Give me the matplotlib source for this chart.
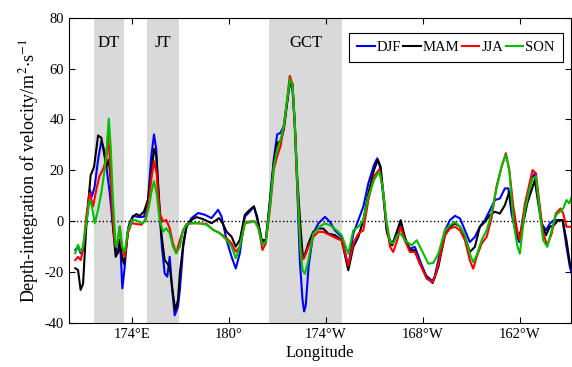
import numpy as np
import matplotlib
matplotlib.use("Agg")
import matplotlib.pyplot as plt

plt.rcParams["font.family"] = ["Liberation Serif", "DejaVu Serif"]
plt.rcParams["mathtext.fontset"] = "stix"
plt.rcParams["axes.unicode_minus"] = False

# longitude as continuous degrees east (186 = 174W)
lon_djf = [170.49, 170.66, 170.82, 170.97, 171.17, 171.38, 171.52, 171.69, 171.90, 172.10, 172.27, 172.41,
           172.62, 172.78, 172.97, 173.13, 173.28, 173.40, 173.55, 173.71, 173.85, 174.06, 174.27, 174.47,
           174.74, 174.99, 175.19, 175.36, 175.50, 175.65, 175.85, 176.02, 176.18, 176.33, 176.47, 176.64,
           176.84, 176.96, 177.17, 177.37, 177.68, 178.09, 178.51, 178.92, 179.33, 179.54, 179.85, 180.16,
           180.42, 180.67, 180.98, 181.29, 181.54, 181.81, 182.07, 182.28, 182.53, 182.77, 182.98, 183.19,
           183.39, 183.56, 183.76, 183.93, 184.07, 184.22, 184.38, 184.55, 184.65, 184.75, 184.92, 185.21,
           185.52, 185.94, 186.25, 186.55, 186.97, 187.38, 187.69, 188.00, 188.31, 188.62, 188.97, 189.17,
           189.34, 189.55, 189.75, 190.06, 190.37, 190.62, 190.88, 191.19, 191.50, 191.81, 192.18, 192.53,
           192.70, 192.95, 193.36, 193.67, 193.98, 194.29, 194.60, 194.90, 195.21, 195.52, 195.83, 196.14,
           196.45, 196.76, 197.07, 197.28, 197.48, 197.75, 197.96, 198.16, 198.45, 198.72, 198.92, 199.13,
           199.34, 199.61, 199.85, 200.10, 200.37, 200.64, 200.88, 201.09, 201.21]
djf = [-11.3, -10.0, -12.6, -11.3, -0.8, 12.4, 9.7, 13.7, 24.2, 31.4, 28.2, 21.6,
       11.1, 0.5, -10.0, -12.6, -10.0, -26.4, -17.9, -4.7, -0.8, 2.1, 1.8, 1.6,
       1.8, 8.4, 25.5, 34.1, 28.2, 8.4, -10.0, -20.5, -21.8, -14.0, -25.8, -37.0,
       -33.7, -27.0, -10.0, -2.1, 1.2, 3.2, 2.5, 1.2, 4.5, 1.8, -7.4, -14.0,
       -18.6, -12.6, 1.8, 3.8, 5.8, -0.8, -8.7, -7.4, 8.4, 24.2, 34.1, 34.7,
       37.4, 45.3, 55.0, 51.5, 37.4, 13.7, -15.3, -31.0, -35.5, -33.0, -18.0, -4.9,
       -0.9, 1.7, -0.3, -3.6, -6.2, -18.0, -4.9, 0.4, 5.7, 14.9, 22.1, 24.7,
       21.4, 9.6, -3.6, -9.5, -4.9, -0.3, -7.5, -10.8, -10.1, -15.4, -21.3, -23.3,
       -22.5, -15.4, -3.6, 0.4, 2.1, 1.1, -3.6, -8.2, -6.2, -2.2, 0.4, 4.3,
       8.3, 8.9, 12.9, 12.9, 3.0, -4.9, -8.2, 0.4, 8.3, 16.8, 18.8, 9.6,
       -0.9, -3.6, -0.9, 0.4, 0.4, 0.4, -10.1, -18.0, -20.7]

lon_mam = [170.49, 170.66, 170.82, 170.97, 171.17, 171.44, 171.65, 171.90, 172.10, 172.27, 172.41, 172.56,
           172.68, 172.82, 172.99, 173.13, 173.24, 173.38, 173.50, 173.65, 173.79, 174.06, 174.27, 174.47,
           174.74, 174.99, 175.19, 175.36, 175.50, 175.65, 175.81, 176.02, 176.18, 176.33, 176.53, 176.68,
           176.84, 176.96, 177.17, 177.37, 177.68, 177.99, 178.40, 178.92, 179.39, 179.60, 179.85, 180.16,
           180.42, 180.67, 180.98, 181.29, 181.54, 181.74, 182.01, 182.28, 182.53, 182.77, 182.98, 183.19,
           183.39, 183.60, 183.76, 183.93, 184.07, 184.22, 184.42, 184.55, 184.65, 184.91, 185.21, 185.52,
           185.83, 186.14, 186.55, 186.97, 187.38, 187.69, 188.00, 188.31, 188.62, 188.97, 189.21, 189.38,
           189.59, 189.79, 190.10, 190.41, 190.62, 190.88, 191.19, 191.50, 191.81, 192.23, 192.60, 192.95,
           193.36, 193.67, 193.98, 194.29, 194.60, 194.90, 195.21, 195.52, 195.83, 196.14, 196.45, 196.76,
           197.07, 197.34, 197.55, 197.89, 198.16, 198.45, 198.72, 198.92, 199.13, 199.34, 199.61, 199.85,
           200.10, 200.37, 200.64, 200.88, 201.09, 201.21]
mam = [-18.5, -19.2, -27.0, -24.6, -2.1, 18.0, 21.3, 33.7, 32.8, 26.8, 21.3, 24.2,
       16.3, -2.1, -14.0, -12.0, -7.4, -14.0, -16.8, -10.0, -2.1, 1.8, 2.8, 2.1,
       3.8, 8.4, 19.2, 28.4, 25.5, 11.1, -4.7, -15.3, -16.6, -17.9, -28.4, -35.0,
       -31.1, -20.5, -8.7, -2.1, 0.5, 1.6, 0.8, -0.8, 1.2, -0.8, -4.1, -6.1,
       -10.0, -7.4, 2.5, 4.5, 5.8, 1.8, -7.4, -7.4, 7.1, 22.9, 30.8, 31.4,
       36.0, 46.6, 55.1, 53.8, 38.7, 17.6, -2.1, -12.6, -14.0, -8.8, -4.2, -2.9,
       -2.9, -4.9, -5.5, -7.5, -19.3, -10.1, -6.2, 0.4, 10.9, 20.1, 24.1, 21.4,
       8.3, -4.9, -9.5, -3.6, 0.4, -6.2, -11.4, -11.4, -16.7, -22.0, -24.3, -18.0,
       -5.5, -2.2, -0.9, -2.2, -6.2, -12.1, -10.1, -2.2, -0.3, 2.4, 3.7, 3.0,
       6.3, 11.6, 3.0, -6.8, -2.2, 7.0, 12.2, 16.2, 7.0, -0.9, -5.5, -2.2,
       -1.6, 0.4, 0.4, -7.5, -16.7, -18.7]

lon_jja = [170.49, 170.66, 170.82, 170.97, 171.17, 171.38, 171.59, 171.79, 171.98, 172.20, 172.41, 172.51,
           172.62, 172.76, 172.93, 173.09, 173.24, 173.38, 173.55, 173.75, 173.96, 174.27, 174.58, 174.82,
           175.05, 175.19, 175.36, 175.52, 175.71, 175.92, 176.12, 176.33, 176.53, 176.74, 176.96, 177.17,
           177.37, 177.68, 178.09, 178.61, 179.02, 179.43, 179.85, 180.16, 180.42, 180.67, 180.98, 181.29,
           181.60, 181.81, 182.07, 182.28, 182.53, 182.77, 182.98, 183.19, 183.39, 183.60, 183.76, 183.93,
           184.07, 184.22, 184.42, 184.55, 184.65, 184.91, 185.21, 185.52, 185.83, 186.25, 186.66, 186.97,
           187.38, 187.69, 188.00, 188.31, 188.62, 188.97, 189.30, 189.50, 189.71, 189.96, 190.16, 190.41,
           190.62, 190.88, 191.19, 191.50, 191.81, 192.23, 192.60, 192.84, 192.95, 193.36, 193.67, 193.98,
           194.29, 194.60, 194.90, 195.11, 195.32, 195.63, 195.94, 196.24, 196.55, 196.86, 197.13, 197.34,
           197.59, 197.83, 197.99, 198.31, 198.57, 198.78, 198.99, 199.23, 199.44, 199.69, 199.96, 200.22,
           200.51, 200.68, 200.88, 201.21]
jja = [-15.3, -14.0, -15.3, -11.3, 1.8, 11.1, 5.8, 12.4, 17.6, 20.3, 24.2, 33.4,
       25.5, 5.8, -8.7, -9.3, -2.1, -10.0, -14.0, -4.7, -0.8, -1.1, -1.4, 0.5,
       8.4, 16.3, 23.6, 18.9, 3.2, -0.1, 0.5, -2.8, -8.7, -12.6, -7.4, -3.4,
       -1.1, -0.8, -0.8, -1.1, -3.4, -4.7, -6.7, -8.7, -12.0, -10.0, -0.8, -0.1,
       -0.1, -2.1, -11.3, -8.7, 4.5, 20.3, 25.5, 29.5, 37.4, 47.9, 57.1, 53.8,
       37.4, 13.7, -10.0, -15.0, -14.5, -10.1, -6.2, -4.2, -4.2, -5.5, -6.8, -7.5,
       -17.4, -8.8, -4.9, -3.6, 8.3, 17.5, 20.4, 13.6, 0.4, -10.1, -12.1, -7.5,
       -2.2, -7.5, -12.1, -12.1, -16.7, -22.6, -23.9, -20.0, -16.7, -5.5, -2.9, -2.2,
       -3.6, -7.5, -15.4, -18.7, -14.1, -8.8, -6.2, 1.1, 13.6, 21.4, 26.7, 20.1,
       5.7, -3.6, -7.5, 7.0, 14.2, 20.1, 18.8, 5.7, -4.9, -9.5, -4.9, 3.0,
       5.0, 3.0, -2.2, -2.2]

lon_son = [170.49, 170.66, 170.82, 170.97, 171.17, 171.38, 171.52, 171.69, 171.90, 172.10, 172.31, 172.45,
           172.56, 172.68, 172.82, 172.99, 173.13, 173.24, 173.38, 173.55, 173.75, 174.00, 174.27, 174.58,
           174.82, 175.05, 175.19, 175.36, 175.52, 175.71, 175.92, 176.12, 176.33, 176.53, 176.74, 176.96,
           177.17, 177.37, 177.68, 178.09, 178.61, 179.02, 179.43, 179.85, 180.16, 180.42, 180.67, 180.98,
           181.29, 181.60, 181.81, 182.07, 182.28, 182.53, 182.77, 182.98, 183.19, 183.39, 183.60, 183.76,
           183.93, 184.07, 184.22, 184.42, 184.55, 184.70, 184.91, 185.21, 185.63, 185.94, 186.25, 186.66,
           186.97, 187.38, 187.69, 188.00, 188.31, 188.62, 188.97, 189.30, 189.50, 189.71, 189.96, 190.16,
           190.41, 190.62, 190.88, 191.30, 191.61, 191.98, 192.33, 192.64, 192.95, 193.36, 193.67, 193.98,
           194.29, 194.60, 194.90, 195.11, 195.32, 195.63, 195.94, 196.24, 196.55, 196.86, 197.13, 197.34,
           197.59, 197.83, 197.99, 198.31, 198.57, 198.78, 198.99, 199.23, 199.44, 199.69, 199.96, 200.22,
           200.47, 200.68, 200.88, 201.05, 201.21]
son = [-12.6, -9.3, -12.0, -10.0, -0.8, 8.4, 5.8, -0.8, 4.5, 11.1, 20.3, 29.5,
       40.3, 29.5, 8.4, -10.0, -7.4, -2.1, -10.0, -12.0, -3.4, 0.5, 0.3, -0.8,
       -0.1, 5.8, 11.1, 15.7, 11.1, 0.5, -4.1, -2.8, -4.7, -10.0, -12.6, -10.0,
       -3.4, -1.4, -0.8, -0.8, -1.4, -3.4, -4.7, -7.4, -10.0, -14.6, -10.0, -0.8,
       -0.5, -0.1, -2.8, -9.3, -8.0, 5.8, 21.6, 28.2, 32.1, 37.4, 47.9, 55.8,
       53.2, 38.7, 16.3, -11.3, -19.2, -20.7, -15.4, -4.9, -2.0, -0.9, -1.6, -3.6,
       -5.5, -12.8, -3.6, -2.2, 0.4, 9.6, 16.2, 19.5, 13.6, 1.7, -8.2, -8.8,
       -5.5, -4.9, -7.5, -9.5, -7.5, -12.1, -16.7, -16.4, -12.8, -3.6, -1.6, -0.3,
       -2.2, -5.5, -12.8, -16.1, -13.4, -7.5, -3.6, 3.0, 12.9, 21.4, 26.1, 20.1,
       0.4, -9.5, -12.8, 4.3, 12.2, 16.8, 17.5, 3.0, -7.5, -10.1, -3.6, 2.4,
       3.7, 5.0, 8.3, 7.0, 9.6]

seasons = ["DJF", "MAM", "JJA", "SON"]
colors = ["#0000ff", "#000000", "#ff0000", "#00c000"]

regions = ["DT", "JT", "GCT"]
region_start = [171.65, 174.9, 182.5]
region_end = [173.5, 176.9, 187.0]

xtick_pos = [174, 180, 186, 192, 198]
xtick_lab = ["174°E", "180°", "174°W", "168°W", "162°W"]

fig = plt.figure(figsize=(5.72, 3.67), dpi=100)
ax = fig.add_axes([0.1206, 0.12, 0.8774, 0.832])

for name, a, b in zip(regions, region_start, region_end):
    ax.axvspan(a, b, color="#d9d9d9", lw=0, zorder=0)
    ax.text((a + b) / 2, 70, name, ha="center", va="center", fontsize=12)

ax.axhline(0, color="k", ls=":", lw=1, zorder=1)

for x, y, lab, c in zip([lon_djf, lon_mam, lon_jja, lon_son], [djf, mam, jja, son], seasons, colors):
    ax.plot(x, y, color=c, lw=1.5, label=lab, zorder=2)

ax.set_xlim(170.1, 201.15)
ax.set_ylim(-40, 80)
ax.set_xticks(xtick_pos)
ax.set_xticklabels(xtick_lab)
ax.set_yticks(np.arange(-40, 81, 20))
ax.tick_params(direction="in", top=True, right=True, length=4, labelsize=10.5)
for s in ax.spines.values():
    s.set_linewidth(0.8)

ax.set_xlabel("Longitude", fontsize=12, labelpad=3)
ax.set_ylabel("Depth-integration of velocity/m$^{2}$$\\cdot$s$^{-1}$", fontsize=13, labelpad=3)

leg = ax.legend(loc="upper right", bbox_to_anchor=(0.984, 0.949), borderaxespad=0, ncol=4, fontsize=10.5,
                handlelength=1.2, handletextpad=0.15, columnspacing=0.15, borderpad=0.55,
                fancybox=False, edgecolor="k", framealpha=1)
leg.get_frame().set_linewidth(0.8)

fig.savefig("out.png", dpi=100)
